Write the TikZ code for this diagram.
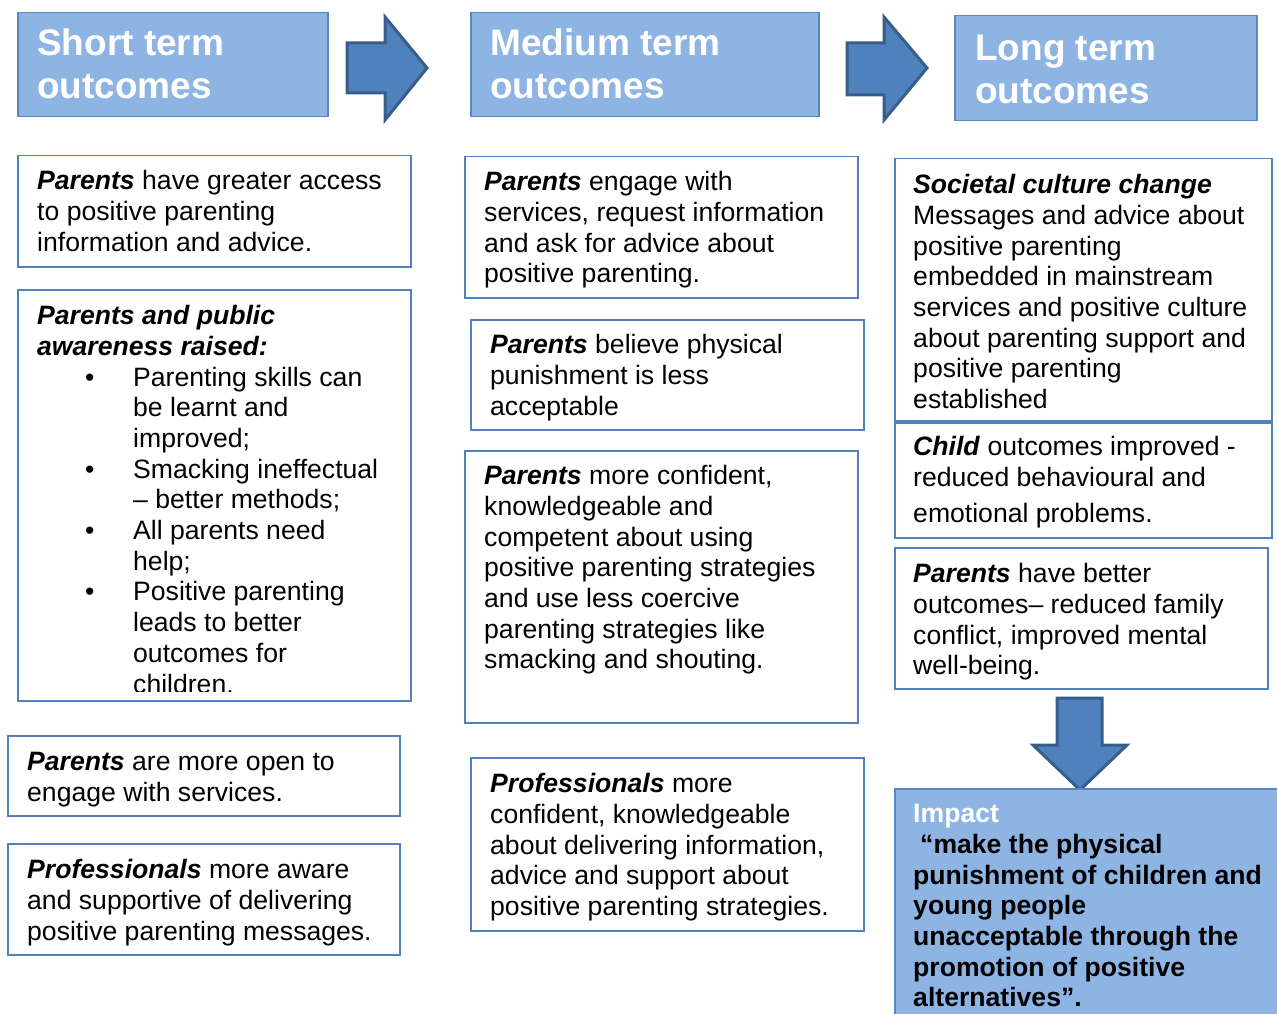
\documentclass[tikz,border=0pt]{standalone}
\usepackage{fontspec}
\setmainfont{Liberation Sans}
\definecolor{hdrfill}{HTML}{8EB4E3}
\definecolor{hdrline}{HTML}{5A86C2}
\definecolor{boxline}{HTML}{4F81BD}
\definecolor{arrfill}{HTML}{4F81BD}
\definecolor{arrline}{HTML}{385D8A}
\newcommand\kw[1]{\textbf{\textit{#1}}}
\newcommand\bulletpt{\hspace*{48pt}\makebox[48pt][l]{•}}
\newcommand\bulletind{\hspace*{96pt}}
\begin{document}
\begin{tikzpicture}[
		x = 1pt,
		y = -1pt,
		line join = miter,
		hdr/.style = {draw=hdrline, fill=hdrfill, line width=1.5pt, anchor=north west, inner sep=0pt},
		box/.style = {draw=boxline, fill=white, line width=1.5pt, anchor=north west, inner sep=0pt},
		txt/.style = {anchor=north west, inner sep=0pt, align=left,
			font=\fontsize{26.6}{30.7}\selectfont},
		hdrtxt/.style = {anchor=north west, inner sep=0pt, align=left, text=white,
			font=\fontsize{37}{43}\selectfont\bfseries},
		blockarrow/.style = {draw=arrline, fill=arrfill, line width=3pt},
		]
\clip (0,0) rectangle (1277,1014);
\fill[white] (0,0) rectangle (1277,1014);

% headers
\node[hdr, minimum width=310pt, minimum height=104pt] (short) at (17,12) {};
\node[hdr, minimum width=348pt, minimum height=104pt] (medium) at (470,12) {};
\node[hdr, minimum width=302pt, minimum height=105pt] (long) at (954,15) {};
\node[hdrtxt] (shortt) at ([shift={(20,13)}]short.north west) {\strut Short term\\ outcomes};
\node[hdrtxt] (mediumt) at ([shift={(20,13)}]medium.north west) {\strut Medium term\\ outcomes};
\node[hdrtxt] (longt) at ([shift={(21,15)}]long.north west) {\strut Long term\\ outcomes};

\draw[blockarrow] (347,43) -- (385,43) -- (385,17) -- (427,68) -- (385,120) -- (385,93) -- (347,93) -- cycle;
\draw[blockarrow] (847,43) -- (884,43) -- (884,17) -- (927,68) -- (884,120) -- (884,95) -- (847,95) -- cycle;

% short term
\node[box, minimum width=393pt, minimum height=111pt] (s1) at (17,155) {};
\node[txt] (s1t) at ([shift={(20,13)}]s1.north west)
	{\strut\kw{Parents} have greater access\\ to positive parenting\\ information and advice.};
\node[box, minimum width=393pt, minimum height=411pt] (s2) at (17,289) {};
\begin{scope}
\clip (17,289) rectangle (410,691);
\node[txt] (s2t) at ([shift={(20,14)}]s2.north west)
	{\strut\kw{Parents and public}\\ \kw{awareness raised:}\\
	\bulletpt Parenting skills can\\ \bulletind be learnt and\\ \bulletind improved;\\
	\bulletpt Smacking ineffectual\\ \bulletind – better methods;\\
	\bulletpt All parents need\\ \bulletind help;\\
	\bulletpt Positive parenting\\ \bulletind leads to better\\ \bulletind outcomes for\\ \bulletind children.};
\end{scope}
\node[box, minimum width=392pt, minimum height=80pt] (s3) at (7,735) {};
\node[txt] (s3t) at ([shift={(20,14)}]s3.north west)
	{\strut\kw{Parents} are more open to\\ engage with services.};
\node[box, minimum width=392pt, minimum height=111pt] (s4) at (7,843) {};
\node[txt] (s4t) at ([shift={(20,14)}]s4.north west)
	{\strut\kw{Professionals} more aware\\ and supportive of delivering\\ positive parenting messages.};

% medium term
\node[box, minimum width=393pt, minimum height=141pt] (m1) at (464,156) {};
\node[txt] (m1t) at ([shift={(20,13)}]m1.north west)
	{\strut\kw{Parents} engage with\\ services, request information\\ and ask for advice about\\ positive parenting.};
\node[box, minimum width=393pt, minimum height=110pt] (m2) at (470,319) {};
\node[txt] (m2t) at ([shift={(20,13)}]m2.north west)
	{\strut\kw{Parents} believe physical\\ punishment is less\\ acceptable};
\node[box, minimum width=393pt, minimum height=272pt] (m3) at (464,450) {};
\node[txt] (m3t) at ([shift={(20,13)}]m3.north west)
	{\strut\kw{Parents} more confident,\\ knowledgeable and\\ competent about using\\ positive parenting strategies\\
	and use less coercive\\ parenting strategies like\\ smacking and shouting.};
\node[box, minimum width=393pt, minimum height=173pt] (m4) at (470,757) {};
\node[txt] (m4t) at ([shift={(20,14)}]m4.north west)
	{\strut\kw{Professionals} more\\ confident, knowledgeable\\ about delivering information,\\ advice and support about\\ positive parenting strategies.};

% long term
\node[box, minimum width=377pt, minimum height=262pt] (l1) at (894,158) {};
\node[txt] (l1t) at ([shift={(19,14)}]l1.north west)
	{\strut\kw{Societal culture change}\\ Messages and advice about\\ positive parenting\\ embedded in mainstream\\
	services and positive culture\\ about parenting support and\\ positive parenting\\ established};
\node[box, minimum width=377pt, minimum height=115pt] (l2) at (894,422) {};
\node[txt] (l2t) at ([shift={(19,12)}]l2.north west)
	{\strut\kw{Child} outcomes improved -\\ reduced behavioural and\\[5pt] emotional problems.};
\node[box, minimum width=373pt, minimum height=141pt] (l3) at (894,547) {};
\node[txt] (l3t) at ([shift={(19,14)}]l3.north west)
	{\strut\kw{Parents} have better\\ outcomes– reduced family\\ conflict, improved mental\\ well-being.};

\draw[blockarrow] (1057,698) -- (1102,698) -- (1102,745) -- (1127,745) -- (1080,790) -- (1033,745) -- (1057,745) -- cycle;

% impact
\node[hdr, minimum width=400pt, minimum height=240pt] (impact) at (894,788) {};
\node[txt, font=\fontsize{26.6}{30.7}\selectfont\bfseries] (impactt) at ([shift={(19,13)}]impact.north west)
	{\strut\textcolor{white}{Impact}\\ \hspace*{7pt}“make the physical\\ punishment of children and\\ young people\\
	unacceptable through the\\ promotion of positive\\ alternatives”.};
\end{tikzpicture}
\end{document}
